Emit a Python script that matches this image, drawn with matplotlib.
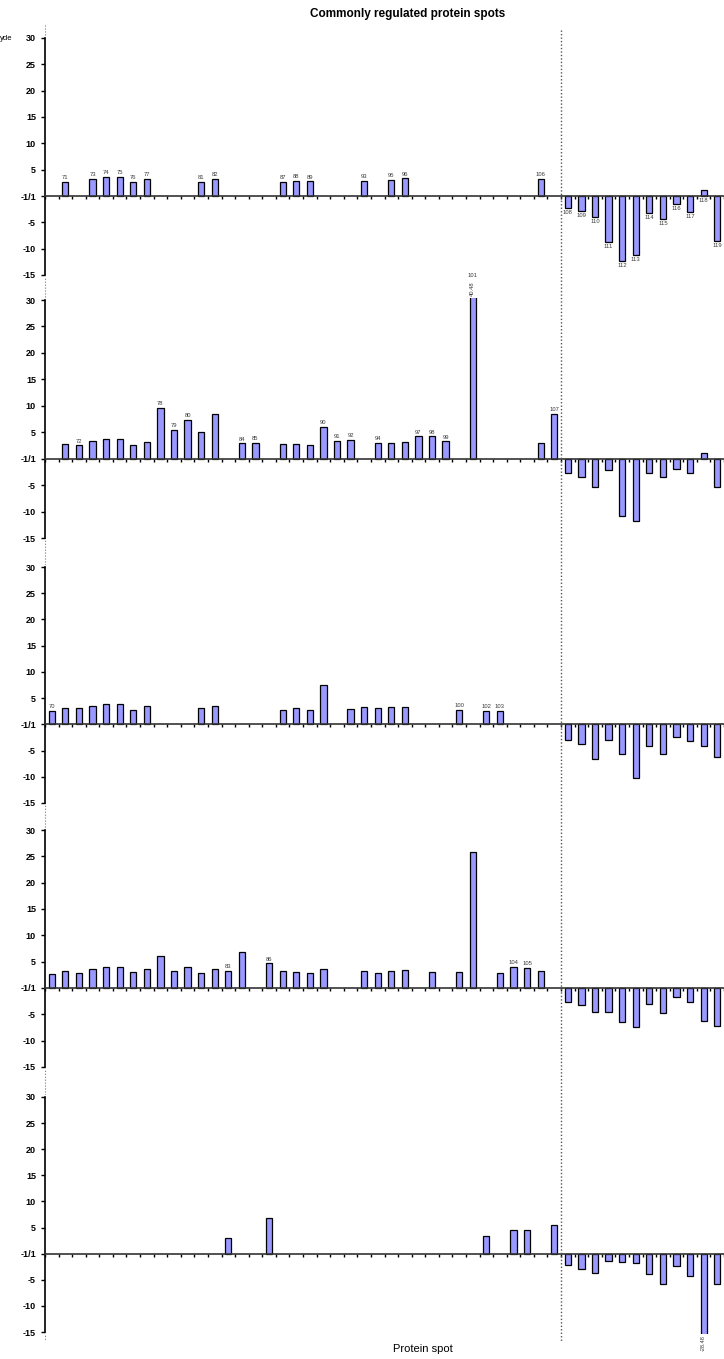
import numpy as np
import matplotlib
matplotlib.use("Agg")
import matplotlib.pyplot as plt
from matplotlib.lines import Line2D
from matplotlib.transforms import blended_transform_factory

plt.rcParams['font.family'] = ['Liberation Sans', 'DejaVu Sans']

nan = np.nan

# protein spot numbers, one per category along the x axis
spots = [70, 71, 72, 73, 74, 75, 76, 77, 78, 79,
         80, 81, 82, 83, 84, 85, 86, 87, 88, 89,
         90, 91, 92, 93, 94, 95, 96, 97, 98, 99,
         100, 101, 102, 103, 104, 105, 106, 107, 108, 109,
         110, 111, 112, 113, 114, 115, 116, 117, 118, 119]
# first spot of the down-regulated group (right of the dotted line)
first_down = 108

# fold change per panel (nan = spot not regulated)
panel1 = [nan, 2.7, nan, 3.2, 3.6, 3.6, 2.7, 3.2, nan, nan,
          nan, 2.7, 3.3, nan, nan, nan, nan, 2.7, 2.85, 2.8,
          nan, nan, nan, 2.85, nan, 3.05, 3.35, nan, nan, nan,
          nan, nan, nan, nan, nan, nan, 3.3, nan, -2.35, -2.85,
          -3.9, -8.7, -12.4, -11.2, -3.3, -4.4, -1.45, -3.05, 1.15, -8.5]
panel2 = [nan, 2.7, 2.55, 3.4, 3.7, 3.7, 2.55, 3.2, 9.6, 5.4,
          7.4, 5.1, 8.5, nan, 2.9, 3.0, nan, 2.7, 2.8, 2.55,
          6.0, 3.4, 3.55, nan, 3.0, 3.0, 3.1, 4.25, 4.25, 3.3,
          nan, 40.48, nan, nan, nan, nan, 3.0, 8.45, -2.7, -3.4,
          -5.4, -2.05, -10.75, -11.7, -2.75, -3.5, -1.9, -2.7, 1.1, -5.4]
panel3 = [2.6, 3.2, 3.05, 3.5, 3.9, 3.95, 2.8, 3.5, nan, nan,
          nan, 3.2, 3.55, nan, nan, nan, nan, 2.8, 3.1, 2.8,
          7.45, nan, 2.9, 3.25, 3.1, 3.25, 3.4, nan, nan, nan,
          2.8, nan, 2.6, 2.6, nan, nan, nan, nan, -3.05, -3.75,
          -6.7, -3.05, -5.6, -10.2, -4.1, -5.6, -2.4, -3.25, -4.2, -6.2]
panel4 = [2.7, 3.3, 2.9, 3.65, 4.0, 4.0, 2.95, 3.6, 6.05, 3.15,
          4.0, 2.85, 3.6, 3.3, 6.9, nan, 4.7, 3.15, 3.05, 2.8,
          3.6, nan, nan, 3.15, 2.8, 3.15, 3.45, nan, 3.05, nan,
          2.95, 25.75, nan, 2.85, 4.0, 3.85, 3.15, nan, -2.65, -3.3,
          -4.55, -4.6, -6.45, -7.5, -3.05, -4.8, -1.7, -2.65, -6.25, -7.3]
panel5 = [nan, nan, nan, nan, nan, nan, nan, nan, nan, nan,
          nan, nan, nan, 3.0, nan, nan, 6.8, nan, nan, nan,
          nan, nan, nan, nan, nan, nan, nan, nan, nan, nan,
          nan, nan, 3.45, nan, 4.55, 4.5, nan, 5.45, -2.25, -2.9,
          -3.7, -1.4, -1.55, -1.8, -3.9, -5.9, -2.35, -4.3, -28.48, -5.9]

# spot numbers written next to bars in each panel
labels1 = [71, 73, 74, 75, 76, 77, 81, 82, 87, 88, 89, 93, 95, 96, 106,
           108, 109, 110, 111, 112, 113, 114, 115, 116, 117, 118, 119]
labels2 = [72, 78, 79, 80, 84, 85, 90, 91, 92, 94, 97, 98, 99, 101, 107]
labels3 = [70, 100, 102, 103]
labels4 = [83, 86, 104, 105]
labels5 = []

yticks = [-15, -10, -5, 0, 5, 10, 15, 20, 25, 30]
yticklabels = ['-15', '-10', '-5', '-1/1', '5', '10', '15', '20', '25', '30']

panels = [panel1, panel2, panel3, panel4, panel5]
panel_labels = [labels1, labels2, labels3, labels4, labels5]

W, H = 724, 1359
fig = plt.figure(figsize=(W / 100, H / 100), dpi=100)

# pixel rows of the 30 and -15 ticks in each panel
rows = [(38, 275), (300, 538), (567, 803), (830, 1067), (1097, 1332)]
ylo, yhi = -15.4, 30.4
x_left, x_right = 45, 724

bar_color = '#9999ff'
lab_color = '#3a3a3a'
lab_size = 4.2
x = np.arange(len(spots))
axes = []
for vals, labs, (y30, y15) in zip(panels, panel_labels, rows):
    ppu = (y15 - y30) / 45.0
    top = y30 - (yhi - 30) * ppu
    bot = y15 + (-15 - ylo) * ppu
    ax = fig.add_axes([x_left / W, 1 - bot / H, (x_right - x_left) / W, (bot - top) / H])
    axes.append(ax)
    vals = np.array(vals, dtype=float)
    ax.bar(x, vals, width=0.46, color=bar_color, edgecolor='black', linewidth=0.9, zorder=3)
    ax.set_xlim(-0.5, len(spots) - 0.5)
    ax.set_ylim(ylo, yhi)

    for s in ['top', 'right']:
        ax.spines[s].set_visible(False)
    ax.spines['left'].set_bounds(-15, 30)
    ax.spines['left'].set_linewidth(1.2)
    ax.spines['bottom'].set_position(('data', 0))
    ax.spines['bottom'].set_color('#333333')
    ax.spines['bottom'].set_linewidth(1.2)
    ax.spines['bottom'].set_zorder(4)

    ax.set_yticks(yticks)
    ax.set_yticklabels(yticklabels, fontsize=6.5, fontweight='bold')
    ax.tick_params(axis='y', direction='out', length=3, width=1, pad=3.5)
    ax.set_xticks(np.arange(-0.5, len(spots), 1))
    ax.tick_params(axis='x', direction='out', length=1.8, width=1, labelbottom=False, color='black')

    for sp in labs:
        i = spots.index(sp)
        v = vals[i]
        if sp >= first_down:
            # down-regulated group: labels always sit under the bar
            ax.annotate(str(sp), (i, min(v, 0)), xytext=(0, -1.5), textcoords='offset points',
                        ha='center', va='top', fontsize=lab_size, color=lab_color)
        elif v > yhi:
            ax.annotate('%.2f' % v, (i, yhi), xytext=(0, 1), textcoords='offset points',
                        ha='center', va='bottom', rotation=90, fontsize=lab_size, color=lab_color,
                        annotation_clip=False)
            ax.annotate(str(sp), (i, yhi), xytext=(0, 14), textcoords='offset points',
                        ha='center', va='bottom', fontsize=lab_size, color=lab_color,
                        annotation_clip=False)
        else:
            ax.annotate(str(sp), (i, v), xytext=(0, 1.2), textcoords='offset points',
                        ha='center', va='bottom', fontsize=lab_size, color=lab_color)

    # clipped negative bars get their value written under them
    for i, v in enumerate(vals):
        if v < ylo:
            ax.annotate('%.2f' % v, (i, ylo), xytext=(0, -1), textcoords='offset points',
                        ha='center', va='top', rotation=90, fontsize=4, color=lab_color,
                        annotation_clip=False)

# dotted line joining the y axes between panels
fig.add_artist(Line2D([x_left / W, x_left / W], [1 - 25 / H, 1 - 1340 / H],
                      transform=fig.transFigure, color='#777777', linestyle=':',
                      linewidth=0.8, zorder=0))

# dotted separator between up- and down-regulated spots
trans = blended_transform_factory(axes[0].transData, fig.transFigure)
fig.add_artist(Line2D([37.5, 37.5], [1 - 30 / H, 1 - 1342 / H], transform=trans,
                      color='#555555', linestyle=(0, (1, 1.5)), linewidth=1.0, zorder=5))

fig.text(408 / W, 1 - 14 / H, 'Commonly regulated protein spots', ha='center', va='center',
         fontsize=8.5, fontweight='bold')
fig.text(0.0, 1 - 38 / H, 'yde', ha='left', va='center', fontsize=5.5)
fig.text(423 / W, 1 - 1349 / H, 'Protein spot', ha='center', va='center', fontsize=8)

fig.savefig('out.png', dpi=100)
